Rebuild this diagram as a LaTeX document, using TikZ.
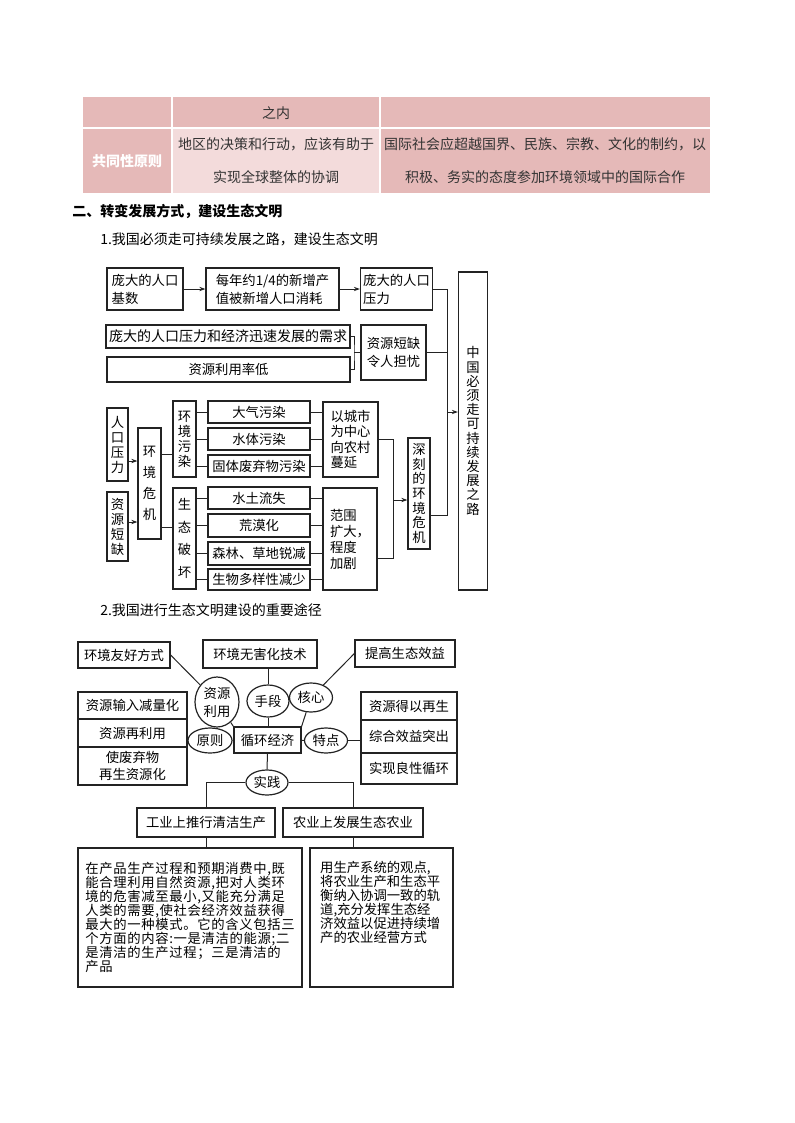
\documentclass[tikz,border=0pt]{standalone}
\usepackage{fontspec}
\setmainfont{Noto Sans CJK SC}
\newfontfamily\widefont{Noto Sans CJK SC}[LetterSpace=5]
\usetikzlibrary{arrows.meta,shapes.geometric}
\definecolor{tblpink}{RGB}{229,185,184}
\definecolor{tbllight}{RGB}{243,219,219}
\definecolor{ink}{RGB}{35,35,35}
\tikzset{
  sz/.style 2 args={minimum width=#1*0.75pt, minimum height=#2*0.75pt},
  bx/.style={draw=ink, line width=0.9pt, inner sep=0pt, font=\fontsize{10pt}{13.5pt}\selectfont},
  vbx/.style={bx, align=center, font=\fontsize{10pt}{#1}\selectfont},
  ell/.style={ellipse, draw=ink, line width=0.9pt, inner sep=0pt, align=center, font=\fontsize{10pt}{13.5pt}\selectfont},
  wire/.style={ink, line width=0.75pt},
  arr/.style={wire, -{Stealth[length=4.5pt,width=3.2pt]}},
  ttxt/.style={font=\fontsize{10.5pt}{24.75pt}\selectfont, text=black!80, align=center, inner sep=0pt},
  hd/.style={anchor=west, inner sep=0pt, font=\fontsize{10.5pt}{12pt}\selectfont},
}
\begin{document}
\begin{tikzpicture}[x=0.75pt, y=-0.75pt]
  \useasboundingbox[fill=white] (0,0) rectangle (794,1123);

  % table rest
  \fill[tblpink] (83,97) rectangle (710,193);
  \fill[tbllight] (172,128) rectangle (380,193);
  \draw[white, line width=1.5pt] (172,97) -- (172,193) (380,97) -- (380,193) (83,128) -- (710,128);
  \node[ttxt] (inner) at (276,113) {之内};
  \node[ttxt, text=white, font=\bfseries\fontsize{10.5pt}{12pt}\selectfont] (common) at (127,161) {共同性原则};
  \node[ttxt] (region) at (276,160.5) {地区的决策和行动，应该有助于\\实现全球整体的协调};
  \node[ttxt] (world) at (545,160.5) {国际社会应超越国界、民族、宗教、文化的制约，以\\积极、务实的态度参加环境领域中的国际合作};

  % headings
  \node[hd, font=\bfseries\fontsize{10.5pt}{12pt}\selectfont] (sec) at (72,211) {二、转变发展方式，建设生态文明};
  \node[hd] (sub1) at (100,239) {1.我国必须走可持续发展之路，建设生态文明};
  \node[hd] (sub2) at (100,610) {2.我国进行生态文明建设的重要途径};

  % diagram 1, upper part
  \node[bx, sz={76}{42}, align=left] (base) at (145,289) {庞大的人口\\基数};
  \node[bx, sz={133}{42}, align=left] (consume) at (272.5,289) {每年约1/4的新增产\\值被新增人口消耗};
  \node[bx, sz={72}{42}, align=left] (press) at (396.5,289) {庞大的人口\\压力};
  \node[bx, sz={244}{23}, font=\fontsize{10.5pt}{12pt}\selectfont] (need) at (228,336.5) {庞大的人口压力和经济迅速发展的需求};
  \node[bx, sz={243}{25}] (lowuse) at (228.5,369.5) {资源利用率低};
  \node[bx, sz={65}{55}, align=center] (short) at (393.5,352.5) {资源短缺\\令人担忧};
  \node[vbx=10.65pt, sz={29}{318}] (goal) at (473,431) {中\\国\\必\\须\\走\\可\\持\\续\\发\\展\\之\\路};

  \draw[arr] (base) -- (consume);
  \draw[arr] (consume) -- (press);
  \coordinate (brk) at (354,352.5);
  \draw[wire] (need.east) -| (brk) |- (lowuse.east);
  \draw[wire] (brk) -- (short);

  % diagram 1, lower part
  \node[vbx=11.25pt, sz={21}{73}] (pop) at (117.5,444.5) {人\\口\\压\\力};
  \node[vbx=11.25pt, sz={21}{69}] (res) at (117.5,526.5) {资\\源\\短\\缺};
  \node[vbx=15.75pt, sz={23}{111}] (crisis) at (149.5,483.5) {环\\境\\危\\机};
  \node[vbx=11.25pt, sz={23}{76}] (pollu) at (184.5,439) {环\\境\\污\\染};
  \node[vbx=17pt, sz={23}{101}] (ecodmg) at (184.5,538.5) {生\\态\\破\\坏};
  \node[bx, sz={102}{22}] (air) at (259,412) {大气污染};
  \node[bx, sz={102}{22}] (water) at (259,439) {水体污染};
  \node[bx, sz={102}{22}] (solid) at (259,466) {固体废弃物污染};
  \node[bx, sz={55}{75}, align=left, font=\fontsize{10pt}{11.5pt}\selectfont] (spread) at (350.5,439.5) {以城市\\为中心\\向农村\\蔓延};
  \node[bx, sz={102}{22}] (soil) at (259,498) {水土流失};
  \node[bx, sz={102}{23}] (desert) at (259,525.5) {荒漠化};
  \node[bx, sz={102}{23}] (forest) at (259,553.5) {森林、草地锐减};
  \node[bx, sz={102}{21}] (bio) at (259,579.5) {生物多样性减少};
  \node[bx, sz={54}{102}, align=left, font=\fontsize{10pt}{12pt}\selectfont] (worse) at (350,539) {范围\\扩大，\\程度\\加剧};
  \node[vbx=11pt, sz={22}{111}] (deep) at (419,493.5) {深\\刻\\的\\环\\境\\危\\机};

  \draw[arr] (pop.east |- 0,461) -- (crisis.west |- 0,461);
  \draw[arr] (res.east |- 0,522) -- (crisis.west |- 0,522);
  \draw[wire] (crisis.east |- 0,454) -- (pollu.west |- 0,454);
  \draw[wire] (crisis.east |- 0,527) -- (ecodmg.west |- 0,527);
  \foreach \n in {air,water,solid} {
    \draw[wire] (pollu.east |- \n) -- (\n);
    \draw[wire] (\n) -- (spread.west |- \n);
  }
  \foreach \n in {soil,desert,forest,bio} {
    \draw[wire] (ecodmg.east |- \n) -- (\n);
    \draw[wire] (\n) -- (worse.west |- \n);
  }
  \coordinate (jn2) at (393,500);
  \draw[wire] (spread) -| (jn2);
  \draw[wire] (worse.east |- 0,558) -| (jn2);
  \draw[arr] (jn2) -- (deep.west |- jn2);

  % into the goal
  \coordinate (jn1) at (447,412);
  \draw[wire] (press) -| (jn1);
  \draw[wire] (short) -| (jn1);
  \draw[wire] (deep.east |- 0,515) -| (jn1);
  \draw[arr] (jn1) -- (goal.west |- jn1);

  % diagram 2
  \node[bx, sz={92}{26}] (friendly) at (124,655) {环境友好方式};
  \node[bx, sz={114}{28}] (harmless) at (260,654) {环境无害化技术};
  \node[bx, sz={100}{27}] (benefit) at (405,653.5) {提高生态效益};
  \node[ell, sz={44}{50}] (reuse) at (217,702) {资源\\利用};
  \node[ell, sz={42}{32}] (means) at (268,701) {手段};
  \node[ell, sz={43}{29}] (core) at (311,697.5) {核心};
  \node[bx, sz={67}{26}] (cycle) at (267.5,740) {循环经济};
  \node[ell, sz={44}{25}] (rule) at (210,740.5) {原则};
  \node[ell, sz={43}{25}] (trait) at (326,740.5) {特点};
  \node[ell, sz={42}{25}] (practice) at (267,782.5) {实践};
  \node[bx, sz={109}{27}] (la) at (132.5,705.5) {资源输入减量化};
  \node[bx, sz={109}{28}] (lb) at (132.5,733) {资源再利用};
  \node[bx, sz={109}{38}, align=center, font=\fontsize{10pt}{12.5pt}\selectfont] (lc) at (132.5,766) {使废弃物\\再生资源化};
  \node[bx, sz={96}{28}] (ra) at (409,706) {资源得以再生};
  \node[bx, sz={96}{33}] (rb) at (409,736.5) {综合效益突出};
  \node[bx, sz={96}{31}] (rc) at (409,768.5) {实现良性循环};
  \node[bx, sz={138}{29}] (ind) at (206,822.5) {工业上推行清洁生产};
  \node[bx, sz={140}{29}] (agr) at (353,822.5) {农业上发展生态农业};
  \node[bx, sz={224}{139}, align=left, font=\widefont\fontsize{10pt}{10.5pt}\selectfont] (indtx) at (190,917.5)
    {在产品生产过程和预期消费中,既\\能合理利用自然资源,把对人类环\\境的危害减至最小,又能充分满足\\人类的需要,使社会经济效益获得\\最大的一种模式。它的含义包括三\\个方面的内容:一是清洁的能源;二\\是清洁的生产过程；三是清洁的\\产品};
  \node[bx, sz={143}{139}] (agrtx) at (381.5,917.5)
    {\parbox[c][84pt][t]{92pt}{\raggedright\fontsize{10pt}{10.5pt}\selectfont
     用生产系统的观点,\\将农业生产和生态平\\衡纳入协调一致的轨\\道,充分发挥生态经\\济效益以促进持续增\\产的农业经营方式}};

  \draw[wire] (friendly.east) -- (reuse);
  \draw[wire] (reuse) -- (cycle.north west);
  \draw[wire] (means |- harmless.south) -- (means);
  \draw[wire] (means) -- (means |- cycle.north);
  \draw[wire] (benefit.west) -- (core);
  \draw[wire] (core) -- (cycle.north east);
  \draw[wire] (lb.east |- rule) -- (rule);
  \draw[wire] (rule) -- (cycle);
  \draw[wire] (cycle) -- (trait);
  \draw[wire] (trait) -- (rb.west |- trait);
  \draw[wire] (cycle) -- (practice);
  \draw[wire] (practice.west) -| (ind);
  \draw[wire] (practice.east) -| (agr);
  \draw[wire] (ind.south) -- (ind.south |- indtx.north);
  \draw[wire] (agr.south) -- (agr.south |- agrtx.north);
\end{tikzpicture}
\end{document}
